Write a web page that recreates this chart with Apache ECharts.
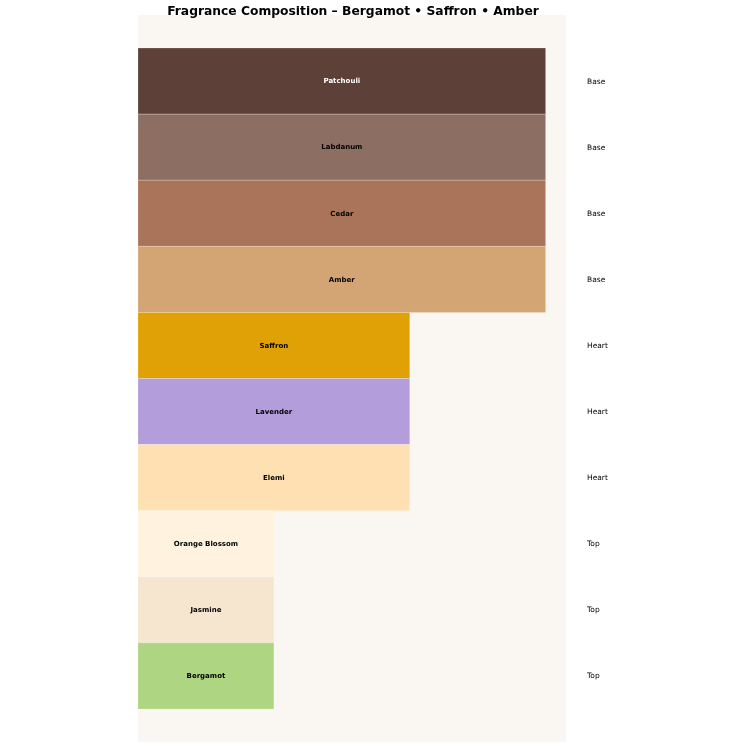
<!DOCTYPE html>
<html><head><meta charset="utf-8">
<script src="https://cdn.jsdelivr.net/npm/echarts@6/dist/echarts.min.js"></script>
<style>html,body{margin:0;padding:0;background:#fff}#c{width:746px;height:746px}</style>
</head><body><div id="c"></div>
<script>
const notes = ["Patchouli","Labdanum","Cedar","Amber","Saffron","Lavender","Elemi","Orange Blossom","Jasmine","Bergamot"];
const tiers = ["Base","Base","Base","Base","Heart","Heart","Heart","Top","Top","Top"];
const values = [3,3,3,3,2,2,2,1,1,1];
const colors = ["#5d4037","#8d6e63","#a97459","#d4a574","#e0a106","#b39ddb","#ffe0b2","#fff3e0","#f6e6d0","#aed581"];
const labelColors = ["#ffffff","#000000","#000000","#000000","#000000","#000000","#000000","#000000","#000000","#000000"];

const chart = echarts.init(document.getElementById('c'), null, {renderer:'canvas'});
const XMAX = 3.15;
chart.setOption({
  animation:false,
  backgroundColor:'#ffffff',
  title:{text:'Fragrance Composition \u2013 Bergamot \u2022 Saffron \u2022 Amber', left:348, textAlign:'center', top:1,
    textStyle:{fontFamily:'DejaVu Sans', fontSize:12.3, fontWeight:'bold', color:'#000'}},
  grid:{left:138, right:180, top:15, bottom:4, show:true, backgroundColor:'#faf6f1', borderWidth:0},
  xAxis:{type:'value', min:0, max:XMAX, show:false},
  yAxis:{type:'value', min:-1, max:10, inverse:true, show:false},
  series:[{
    type:'custom',
    clip:false,
    data: values.map((v,i)=>[v,i]),
    renderItem:function(params, api){
      const i = api.value(1), v = api.value(0);
      const p0 = api.coord([0, i-0.5]);
      const p1 = api.coord([v, i+0.5]);
      const pr = api.coord([XMAX, i]);
      return {type:'group', children:[
        {type:'rect', shape:{x:p0[0], y:p0[1], width:p1[0]-p0[0], height:p1[1]-p0[1]},
         style:{fill:colors[i], stroke:'rgba(255,255,255,0.35)', lineWidth:0.6}},
        {type:'text', x:(p0[0]+p1[0])/2, y:(p0[1]+p1[1])/2 + 0.5,
         style:{text:notes[i], fill:labelColors[i], font:'bold 7px "DejaVu Sans"', align:'center', verticalAlign:'middle'}},
        {type:'text', x:pr[0]+21, y:pr[1] + 0.5,
         style:{text:tiers[i], fill:'#000', font:'7.5px "DejaVu Sans"', align:'left', verticalAlign:'middle'}}
      ]};
    }
  }]
});
</script></body></html>
